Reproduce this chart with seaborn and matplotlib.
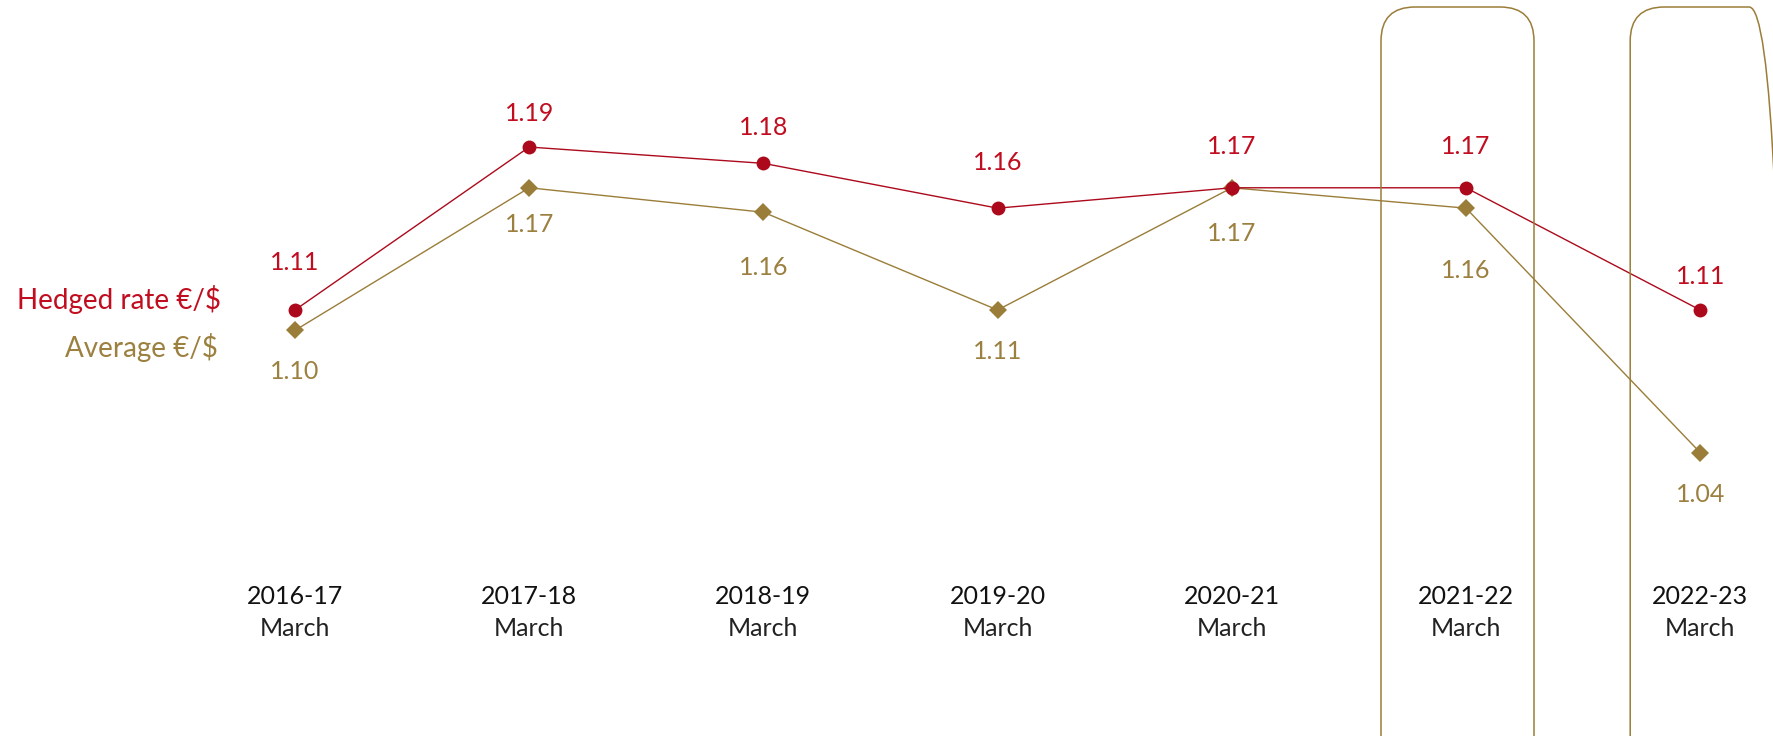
import matplotlib
matplotlib.use("Agg")
import matplotlib.pyplot as plt
import seaborn as sns
import pandas as pd
from matplotlib.patches import FancyBboxPatch
import matplotlib.transforms as mtransforms

# ---- data ----
years = ["2016-17", "2017-18", "2018-19", "2019-20", "2020-21", "2021-22", "2022-23"]
period = "March"
hedged = [1.11, 1.19, 1.182, 1.16, 1.17, 1.17, 1.11]
average = [1.10, 1.17, 1.158, 1.11, 1.17, 1.16, 1.04]
hedged_labels = ["1.11", "1.19", "1.18", "1.16", "1.17", "1.17", "1.11"]
average_labels = ["1.10", "1.17", "1.16", "1.11", "1.17", "1.16", "1.04"]
series_names = ["Hedged rate €/$", "Average €/$"]
highlighted = ["2021-22", "2022-23"]

# ---- style ----
RED = "#AC0A1C"
RED_TXT = "#C00D1F"
GOLD = "#9A7D38"
GOLD_TXT = "#9C8040"
FONT = "Lato"

sns.set_theme(style="white")
plt.rcParams["font.family"] = [FONT, "DejaVu Sans"]

W, H = 1773, 736
fig = plt.figure(figsize=(W / 100, H / 100), dpi=100)
ax = fig.add_axes([0, 0, 1, 1])
ax.set_axis_off()

x0px, dxpx = 295, 234.2
ax.set_xlim(-x0px / dxpx, (W - x0px) / dxpx)
ref_px, ref_v, slope = 310, 1.11, 2037.0
ax.set_ylim(ref_v - (H - ref_px) / slope, ref_v + ref_px / slope)

df = pd.DataFrame({"x": list(range(len(years))), "hedged": hedged, "average": average})

sns.lineplot(data=df, x="x", y="average", ax=ax, color=GOLD, lw=1.0,
             marker="D", markersize=9.5, markeredgewidth=0, zorder=3)
sns.lineplot(data=df, x="x", y="hedged", ax=ax, color=RED, lw=1.0,
             marker="o", markersize=10, markeredgewidth=0, zorder=4)

# value labels (offsets in pixels)
h_off = [47, 34, 36, 46, 41, 41, 33]
a_off = [41, 37, 55, 42, 46, 62, 42]
to_pt = 72 / 100
for i in range(len(years)):
    ax.annotate(hedged_labels[i], (i, hedged[i]), xytext=(0, h_off[i] * to_pt),
                textcoords="offset points", ha="center", va="center",
                color=RED_TXT, fontsize=18)
    ax.annotate(average_labels[i], (i, average[i]), xytext=(0, -a_off[i] * to_pt),
                textcoords="offset points", ha="center", va="center",
                color=GOLD_TXT, fontsize=18)

# category labels
trans = mtransforms.blended_transform_factory(ax.transData, ax.transAxes)
for i, y in enumerate(years):
    ax.text(i, 1 - 596 / H, y, transform=trans, ha="center", va="center",
            fontsize=18, color="#111111")
    ax.text(i, 1 - 629 / H, period, transform=trans, ha="center", va="center",
            fontsize=18, color="#222222")

# series names
fig.text(221 / W, 1 - 300 / H, series_names[0], ha="right", va="center",
         color=RED_TXT, fontsize=20)
fig.text(218 / W, 1 - 348 / H, series_names[1], ha="right", va="center",
         color=GOLD_TXT, fontsize=20)

# highlight boxes (pixel space)
box_left_offset = {"2021-22": -85, "2022-23": -70}
for y in highlighted:
    i = years.index(y)
    left = x0px + i * dxpx + box_left_offset[y]
    bb = FancyBboxPatch((left, H - 770), 153, 763,
                        boxstyle="round,pad=0,rounding_size=34",
                        transform=mtransforms.IdentityTransform(), fill=False,
                        edgecolor=GOLD, lw=1.1, zorder=1)
    fig.patches.append(bb)

fig.savefig("out.png", dpi=100)
